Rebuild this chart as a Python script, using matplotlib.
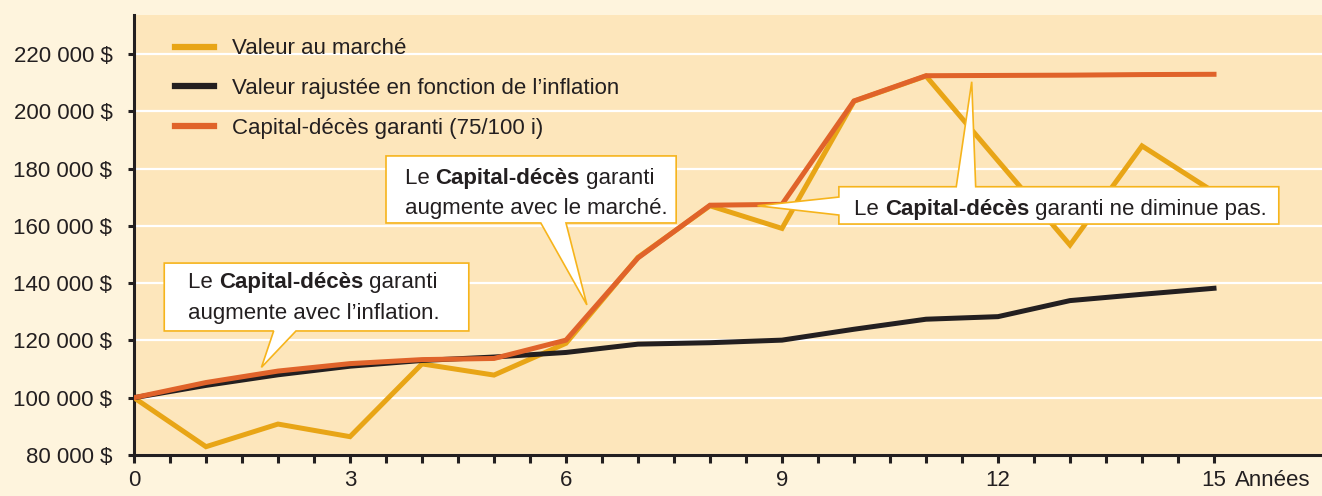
import numpy as np
import matplotlib
matplotlib.use("Agg")
from matplotlib import pyplot as plt
from matplotlib.patches import Polygon
from matplotlib.ticker import FuncFormatter

# data
years = list(range(16))
market = [100000, 82900, 90800, 86400, 111800, 107900, 119000, 149000,
          167000, 159100, 203500, 212300, 182700, 153300, 187900, 171800]
inflation = [100000, 104300, 108000, 111000, 113000, 114200, 115800, 118700,
             119200, 120100, 123900, 127400, 128300, 133900, 136100, 138200]
guaranteed = [100000, 105300, 109300, 111900, 113300, 113700, 120100, 148800,
              167200, 167500, 203600, 212400, 212500, 212600, 212800, 212900]
series_labels = ["Valeur au marché",
                 "Valeur rajustée en fonction de l\u2019inflation",
                 "Capital-décès garanti (75/100 i)"]
yticks = [80000, 100000, 120000, 140000, 160000, 180000, 200000, 220000]
xticks = [0, 3, 6, 9, 12, 15]

YELLOW = "#E8A516"
BLACK = "#231F20"
ORANGE = "#E0632A"
BORDER = "#F6B41C"
FIG_BG = "#FEF4DD"
AX_BG = "#FDE6BB"

plt.rcParams['font.family'] = ['Liberation Sans', 'DejaVu Sans']
FS = 16

fig = plt.figure(figsize=(13.22, 4.96), dpi=100, facecolor=FIG_BG)
ax = fig.add_axes([134/1322, 1-455/496, 1-134/1322, 440/496])
ax.set_facecolor(AX_BG)

ax.set_xlim(0, 16.5)
ax.set_ylim(80000, 233600)

for s in ['top', 'right']:
    ax.spines[s].set_visible(False)
for s in ['left', 'bottom']:
    ax.spines[s].set_linewidth(2.2)
    ax.spines[s].set_color(BLACK)

ax.set_yticks(yticks)
ax.yaxis.set_major_formatter(FuncFormatter(lambda v, p: "{:,.0f} $".format(v).replace(",", " ")))
ax.set_xticks(xticks)
ax.set_xticks([t for t in np.arange(0, 15.5, 0.5) if t not in xticks], minor=True)
ax.tick_params(axis='both', which='both', direction='out', width=2.2, color=BLACK,
               labelsize=FS, labelcolor=BLACK)
ax.tick_params(axis='y', length=4.5, pad=11)
ax.tick_params(axis='x', which='both', length=5.5, pad=5)

ax.grid(axis='y', color='white', linewidth=1.6, zorder=0)
ax.set_axisbelow(True)

lw = 3.6
ax.plot(years, market, color=YELLOW, lw=lw, zorder=3, label=series_labels[0],
        solid_joinstyle='miter')
ax.plot(years, inflation, color=BLACK, lw=lw, zorder=4, label=series_labels[1])
ax.plot(years, guaranteed, color=ORANGE, lw=lw, zorder=5, label=series_labels[2],
        solid_joinstyle='miter')

leg = ax.legend(loc='upper left', bbox_to_anchor=(0.0345, 0.947), frameon=False,
                fontsize=FS, handlelength=1.75, handletextpad=0.8, labelspacing=0.85,
                borderpad=0, borderaxespad=0)
for t in leg.get_texts():
    t.set_color(BLACK)
for h in leg.legend_handles:
    h.set_linewidth(4.5)

ax.text(15.29, -0.034, "Années", transform=ax.get_xaxis_transform(), fontsize=FS,
        color=BLACK, va='top', ha='left')


def callout(verts):
    p = Polygon(verts, closed=True, facecolor='white', edgecolor=BORDER,
                linewidth=1.2, joinstyle='miter', zorder=8)
    ax.add_patch(p)


def rich_line(x, y, parts):
    prev = None
    for txt, bold in parts:
        w = 'bold' if bold else 'normal'
        if prev is None:
            prev = ax.text(x, y, txt, fontsize=FS, fontweight=w, color=BLACK,
                           va='bottom', ha='left', zorder=9)
        else:
            prev = ax.annotate(txt, xy=(1, 0), xycoords=prev, fontsize=FS,
                               fontweight=w, color=BLACK, va='bottom', ha='left',
                               zorder=9)


# callout 1
callout([(0.42, 147000), (4.65, 147000), (4.65, 123300), (2.25, 123300),
         (1.77, 110600), (1.94, 123300), (0.42, 123300)])
rich_line(0.75, 136600, [("Le ", False), ("Capital-décès", True), (" garanti", False)])
rich_line(0.75, 125800, [("augmente avec l\u2019inflation.", False)])

# callout 2
callout([(3.5, 184400), (7.53, 184400), (7.53, 161000), (6.0, 161000),
         (6.29, 132400), (5.65, 161000), (3.5, 161000)])
rich_line(3.76, 172900, [("Le ", False), ("Capital-décès", True), (" garanti", False)])
rich_line(3.76, 162500, [("augmente avec le marché.", False)])

# callout 3
callout([(9.79, 173650), (11.42, 173650), (11.635, 210300), (11.69, 173650),
         (15.9, 173650), (15.9, 160630), (9.79, 160630), (9.79, 163770),
         (8.66, 167000), (9.79, 170050)])
rich_line(10.0, 161900, [("Le ", False), ("Capital-décès", True),
                         (" garanti ne diminue pas.", False)])

fig.savefig("out.png", dpi=100, facecolor=FIG_BG)
